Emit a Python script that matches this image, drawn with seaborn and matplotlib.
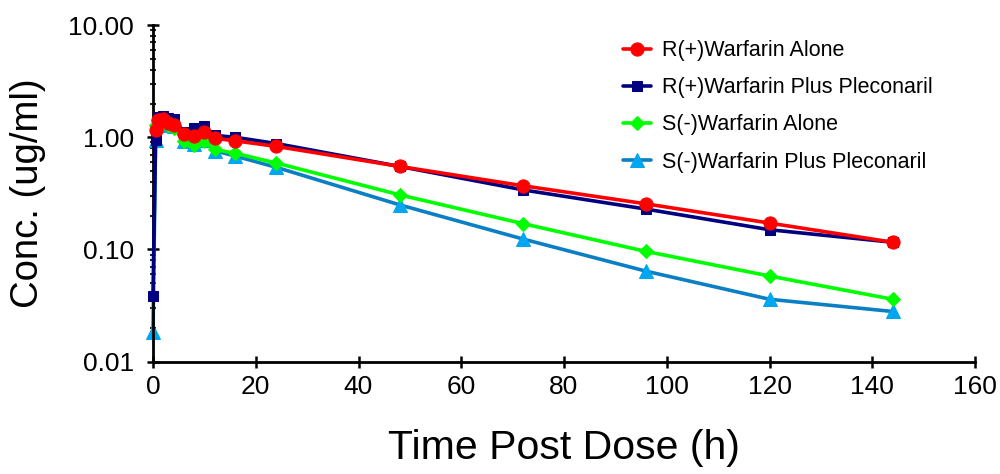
import pandas as pd
import matplotlib
matplotlib.use("Agg")
import matplotlib.pyplot as plt
from matplotlib.ticker import FixedLocator, LogLocator, NullFormatter, FuncFormatter
import seaborn as sns

# ============================================================
# DATA
# ============================================================

times_alone = [0.5, 1, 2, 3, 4, 6, 8, 10, 12, 16, 24, 48, 72, 96, 120, 144]
times_plus = [0, 0.5, 1, 2, 3, 4, 6, 8, 10, 12, 16, 24, 48, 72, 96, 120, 144]

r_alone = [1.16, 1.42, 1.45, 1.35, 1.28, 1.08, 1.03, 1.12, 0.98, 0.93, 0.83,
           0.55, 0.37, 0.255, 0.172, 0.116]
r_plus = [0.0385, 0.95, 1.52, 1.55, 1.50, 1.45, 1.12, 1.20, 1.26, 1.04, 1.00,
          0.88, 0.55, 0.34, 0.229, 0.150, 0.116]
s_alone = [1.28, 1.42, 1.35, 1.30, 1.22, 0.93, 0.86, 0.92, 0.78, 0.72, 0.59,
           0.307, 0.17, 0.096, 0.058, 0.036]
s_plus = [0.0185, 0.95, 1.35, 1.40, 1.30, 1.25, 0.93, 0.87, 0.95, 0.76, 0.68,
          0.54, 0.25, 0.124, 0.064, 0.036, 0.028]

series = [
    # label, times, values, line colour, marker, marker colour, size, zorder
    ("R(+)Warfarin Alone", times_alone, r_alone, "#FF0000", "o", "#FF0000", 9.5, 5),
    ("R(+)Warfarin Plus Pleconaril", times_plus, r_plus, "#000080", "s", "#000080", 7, 4),
    ("S(-)Warfarin Alone", times_alone, s_alone, "#00FF00", "D", "#00FF00", 7.5, 3),
    ("S(-)Warfarin Plus Pleconaril", times_plus, s_plus, "#0A7FC4", "^", "#00A6F0", 9.5, 2),
]

# ============================================================
# PLOT
# ============================================================

sns.set_theme(style="ticks")
plt.rcParams["font.family"] = ["Liberation Sans", "DejaVu Sans"]
plt.rcParams["text.color"] = "black"
plt.rcParams["axes.labelcolor"] = "black"

fig, ax = plt.subplots(figsize=(10, 4.74), dpi=100)
fig.subplots_adjust(left=0.153, right=0.975, bottom=0.237, top=0.947)

for label, t, v, col, mk, mcol, ms, z in series:
    df = pd.DataFrame({"time": t, "conc": v})
    sns.lineplot(data=df, x="time", y="conc", ax=ax, color=col, marker=mk,
                 markersize=ms, markerfacecolor=mcol, markeredgecolor=mcol,
                 linewidth=2.6, label=label, zorder=z, sort=False, clip_on=False)

ax.set_yscale("log")
ax.set_ylim(0.01, 10)
ax.set_xlim(0, 160)
ax.xaxis.set_major_locator(FixedLocator(list(range(0, 161, 20))))
ax.yaxis.set_major_locator(FixedLocator([0.01, 0.1, 1, 10]))
ax.yaxis.set_minor_locator(LogLocator(base=10, subs=range(2, 10)))
ax.yaxis.set_minor_formatter(NullFormatter())
ax.yaxis.set_major_formatter(FuncFormatter(lambda y, _: f"{y:.2f}"))

ax.tick_params(axis="both", which="major", direction="inout", length=9, width=1.8,
               labelsize=19, colors="black")
ax.tick_params(axis="y", which="major", pad=9)
ax.tick_params(axis="x", which="major", pad=5)
ax.tick_params(axis="y", which="minor", direction="inout", length=5, width=1.5)
ax.tick_params(axis="x", which="minor", length=0)

for side in ["top", "right"]:
    ax.spines[side].set_visible(False)
for side in ["left", "bottom"]:
    ax.spines[side].set_linewidth(2)
    ax.spines[side].set_color("black")

ax.set_xlabel("Time Post Dose (h)", fontsize=29.5, labelpad=22)
ax.set_ylabel("Conc. (ug/ml)", fontsize=27.5, labelpad=16)

leg = ax.legend(loc="upper right", bbox_to_anchor=(0.972, 1.013), frameon=False,
                fontsize=15.5, handlelength=1.3, labelspacing=0.75,
                handletextpad=0.5)

plt.savefig("out.png", dpi=100)
plt.close()
